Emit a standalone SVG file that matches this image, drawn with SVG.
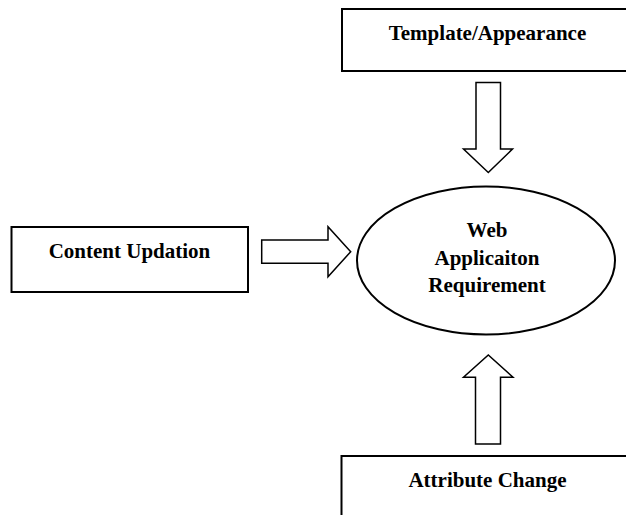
<svg xmlns="http://www.w3.org/2000/svg" width="626" height="515" viewBox="0 0 626 515">
<style>
.box{fill:#fff;stroke:#000;stroke-width:2}
.arr{fill:#fff;stroke:#000;stroke-width:1.5;stroke-linejoin:miter}
.t{font-family:"Liberation Serif","Times New Roman",serif;font-weight:bold;font-size:21px;fill:#000;text-anchor:middle}
</style>
<rect width="626" height="515" fill="#fff"/>
<g id="template">
<rect class="box" x="342" y="9" width="292" height="62"/>
<text class="t" x="487.5" y="40">Template/Appearance</text>
</g>
<g id="content">
<rect class="box" x="11.5" y="227" width="236.5" height="65"/>
<text class="t" x="129.5" y="258">Content Updation</text>
</g>
<g id="webapp">
<ellipse cx="486" cy="260.5" rx="129" ry="74" fill="#fff" stroke="#000" stroke-width="2"/>
<text class="t" x="487" y="236.5">Web</text>
<text class="t" x="487" y="264.5">Applicaiton</text>
<text class="t" x="487" y="292">Requirement</text>
</g>
<g id="attribute">
<rect class="box" x="341.5" y="456" width="292" height="70"/>
<text class="t" x="487.5" y="486.5">Attribute Change</text>
</g>
<g id="connectors">
<polygon class="arr" points="476,82.5 500.5,82.5 500.5,149 512.5,149 488.3,172.5 463.5,149 476,149"/>
<polygon class="arr" points="261.7,240 328,240 328,226.7 350.7,251.7 328,276.7 328,263.3 261.7,263.3"/>
<polygon class="arr" points="475.5,444 500.5,444 500.5,377.3 513,377.3 488.3,355 463.5,377.3 475.5,377.3"/>
</g>
</svg>
